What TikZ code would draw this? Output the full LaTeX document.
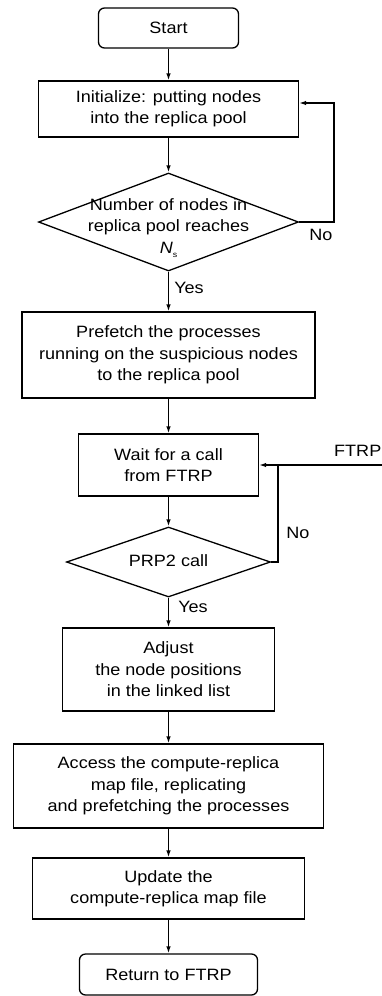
\documentclass[tikz,border=0pt]{standalone}
\usepackage{fontspec}
\setmainfont[FakeStretch=1.1]{Liberation Sans}
\usetikzlibrary{shapes.geometric,arrows.meta}
\begin{document}
\begin{tikzpicture}[x=1pt,y=-1pt,
  every node/.style={font=\fontsize{16.4}{21.5}\selectfont},
  box/.style={draw,line width=1.3pt,rectangle,inner sep=0pt,align=center},
  term/.style={box,rounded corners=6pt},
  dia/.style={draw,line width=1.3pt,diamond,inner sep=0pt},
  lbl/.style={inner sep=0pt,align=center},
  arr/.style={line width=1.3pt,-{Latex[length=7pt,width=4.5pt]}},
  ln/.style={line width=1.3pt}]
\useasboundingbox (0,0) rectangle (382,996);
\node[term,minimum width=140pt,minimum height=40pt] (start) at (168.5,28) {Start};
\node[box,minimum width=260pt,minimum height=56pt] (init) at (168.5,109) {Initialize: putting nodes\\into the replica pool};
\node[dia,minimum width=260pt,minimum height=98pt] (d1) at (168.5,222) {};
\node[lbl] (d1t) at (168.5,228) {Number of nodes in\\replica pool reaches\\{\itshape N}\raisebox{-4pt}{\fontsize{8}{8}\selectfont s}};
\node[box,minimum width=293pt,minimum height=86pt] (pre) at (168.5,355) {Prefetch the processes\\running on the suspicious nodes\\to the replica pool};
\node[box,minimum width=180pt,minimum height=62pt] (wait) at (168.5,465) {Wait for a call\\from FTRP};
\node[dia,minimum width=204pt,minimum height=70pt] (d2) at (168.5,562) {};
\node[lbl] (d2t) at (168.5,561) {PRP2 call};
\node[box,minimum width=212pt,minimum height=83pt] (adj) at (168.5,669.5) {Adjust\\the node positions\\ in the linked list};
\node[box,minimum width=310pt,minimum height=84pt] (acc) at (168.5,786) {Access the compute-replica\\map file, replicating\\and prefetching the processes};
\node[box,minimum width=272pt,minimum height=61pt] (upd) at (168.5,888.5) {Update the\\compute-replica map file};
\node[term,minimum width=178pt,minimum height=41pt] (ret) at (168.5,974.5) {Return to FTRP};
\draw[arr] (start) -- (init);
\draw[arr] (init) -- (d1);
\draw[arr] (d1) -- (pre);
\draw[arr] (pre) -- (wait);
\draw[arr] (wait) -- (d2);
\draw[arr] (d2) -- (adj);
\draw[arr] (adj) -- (acc);
\draw[arr] (acc) -- (upd);
\draw[arr] (upd) -- (ret);
\coordinate (n1) at (334,103);
\draw[arr] (d1.east) -| (n1) -- (n1 -| init.east);
\coordinate (ftrp) at (382,465);
\coordinate (j) at (278,465);
\draw[arr] (ftrp) -- (ftrp -| wait.east);
\draw[ln] (d2.east) -| (j);
\node[lbl] (no1) at (321,235) {No};
\node[lbl] (yes1) at (189,288) {Yes};
\node[lbl] (no2) at (298,533) {No};
\node[lbl] (yes2) at (193,607) {Yes};
\node[lbl,anchor=east] (ftrpl) at (381.5,451) {FTRP};
\end{tikzpicture}
\end{document}
